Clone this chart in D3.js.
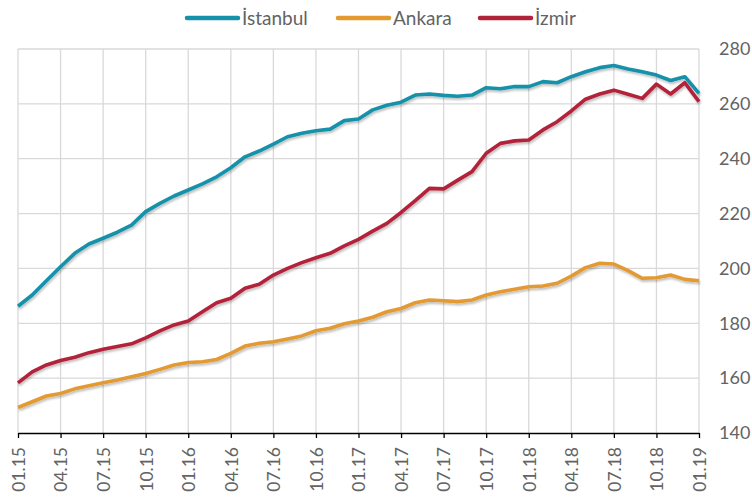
<!DOCTYPE html>
<html lang="tr">
<head>
<meta charset="UTF-8">
<title>Konut fiyat endeksi</title>
<script src="https://cdn.jsdelivr.net/npm/d3@7"></script>
<style>
  body { margin: 0; background: #fff; font-family: 'Lato', 'Open Sans', sans-serif; }
  .grid line { stroke: #d9d9d9; stroke-width: 1.3; }
  .lbl { fill: #636363; }
</style>
</head>
<body>
<svg id="chart" width="752" height="497"></svg>
<script>
// monthly values, 01.15 .. 01.19
const tickLabels = ['01.15','04.15','07.15','10.15','01.16','04.16','07.16','10.16','01.17','04.17','07.17','10.17','01.18','04.18','07.18','10.18','01.19'];
const yTicks = [140, 160, 180, 200, 220, 240, 260, 280];

const istanbul = [186.2, 190.3, 195.5, 200.6, 205.5, 208.9, 211.0, 213.2, 215.8, 220.7, 223.7, 226.4,
  228.6, 230.8, 233.4, 236.7, 240.7, 242.8, 245.3, 248.0, 249.3, 250.2, 250.8, 253.9,
  254.5, 257.8, 259.5, 260.6, 263.2, 263.6, 263.1, 262.8, 263.2, 265.9, 265.5, 266.3,
  266.3, 268.1, 267.7, 269.9, 271.7, 273.2, 274.0, 272.7, 271.7, 270.5, 268.5, 269.9, 263.8];
const ankara = [149.3, 151.4, 153.5, 154.4, 156.1, 157.2, 158.3, 159.3, 160.5, 161.7, 163.2, 164.8,
  165.7, 166.0, 166.8, 169.0, 171.7, 172.7, 173.3, 174.3, 175.4, 177.3, 178.2, 179.8,
  180.8, 182.2, 184.2, 185.4, 187.5, 188.5, 188.2, 187.9, 188.5, 190.3, 191.5, 192.4,
  193.3, 193.6, 194.6, 197.2, 200.3, 201.9, 201.6, 199.2, 196.4, 196.6, 197.6, 196.0, 195.5];
const izmir = [158.3, 162.3, 164.8, 166.4, 167.6, 169.3, 170.5, 171.5, 172.5, 174.7, 177.2, 179.4,
  180.8, 184.2, 187.5, 189.1, 192.8, 194.2, 197.6, 200.0, 202.1, 203.9, 205.5, 208.2,
  210.6, 213.6, 216.4, 220.4, 224.7, 229.2, 229.0, 232.2, 235.3, 242.0, 245.6, 246.5,
  246.8, 250.5, 253.5, 257.4, 261.7, 263.6, 265.0, 263.5, 262.0, 267.2, 263.6, 267.7, 260.8];

const seriesNames = ['İstanbul', 'Ankara', 'İzmir'];
const seriesColors = ['#1591aa', '#e39a30', '#b2223a'];
const seriesData = [istanbul, ankara, izmir];

const svg = d3.select('#chart');
const pLeft = 18, pRight = 699, pTop = 49, pBottom = 433;

const x = d3.scaleLinear().domain([0, 48]).range([pLeft, pRight]);
const y = d3.scaleLinear().domain([140, 280]).range([pBottom, pTop]);

// drop shadow for the lines
const defs = svg.append('defs');
const f = defs.append('filter').attr('id', 'shadow').attr('x', '-5%').attr('y', '-5%').attr('width', '110%').attr('height', '120%');
f.append('feDropShadow').attr('dx', 1).attr('dy', 2).attr('stdDeviation', 1.2)
  .attr('flood-color', '#000').attr('flood-opacity', 0.25);

// gridlines
const grid = svg.append('g').attr('class', 'grid');
grid.selectAll('.h').data(yTicks.slice(1)).join('line')
  .attr('x1', pLeft).attr('x2', pRight)
  .attr('y1', d => y(d)).attr('y2', d => y(d));
grid.selectAll('.v').data(tickLabels.map((t, i) => i * 3)).join('line')
  .attr('x1', d => x(d)).attr('x2', d => x(d))
  .attr('y1', pTop).attr('y2', pBottom);

// right y labels
svg.append('g').selectAll('text').data(yTicks).join('text')
  .attr('class', 'lbl')
  .attr('x', 719).attr('y', d => y(d))
  .attr('dy', '0.35em').attr('text-anchor', 'start')
  .style('font-size', '18px')
  .text(d => d);

// x axis
const xAxis = d3.axisBottom(x)
  .tickValues(tickLabels.map((t, i) => i * 3))
  .tickSize(5).tickSizeOuter(0)
  .tickFormat((d, i) => tickLabels[i]);
const gx = svg.append('g').attr('transform', `translate(0,${pBottom})`).call(xAxis);
gx.select('.domain').attr('stroke', '#000').attr('stroke-width', 1.5);
gx.selectAll('.tick line').attr('stroke', '#000').attr('stroke-width', 1.3);
gx.selectAll('.tick text')
  .attr('fill', '#636363')
  .style('font-size', '17.5px')
  .style('font-family', "'Lato', 'Open Sans', sans-serif")
  .attr('text-anchor', 'end')
  .attr('transform', 'rotate(-90)')
  .attr('x', -14).attr('y', 0).attr('dy', '0.36em');

// lines
const line = d3.line().x((d, i) => x(i)).y(d => y(d));
svg.append('g').selectAll('path').data(seriesData).join('path')
  .attr('d', line)
  .attr('fill', 'none')
  .attr('stroke', (d, i) => seriesColors[i])
  .attr('stroke-width', 3.6)
  .attr('stroke-linejoin', 'round')
  .attr('filter', 'url(#shadow)');

// legend
const legendX = [187, 338, 480];
const lg = svg.append('g').selectAll('g').data(seriesNames).join('g')
  .attr('transform', (d, i) => `translate(${legendX[i]},18)`);
lg.append('line').attr('x1', 0).attr('x2', 51)
  .attr('stroke', (d, i) => seriesColors[i])
  .attr('stroke-width', 4.5).attr('stroke-linecap', 'round');
lg.append('text').attr('class', 'lbl')
  .attr('x', 55).attr('dy', '0.36em')
  .style('font-size', '19px')
  .text(d => d);
</script>
</body>
</html>
